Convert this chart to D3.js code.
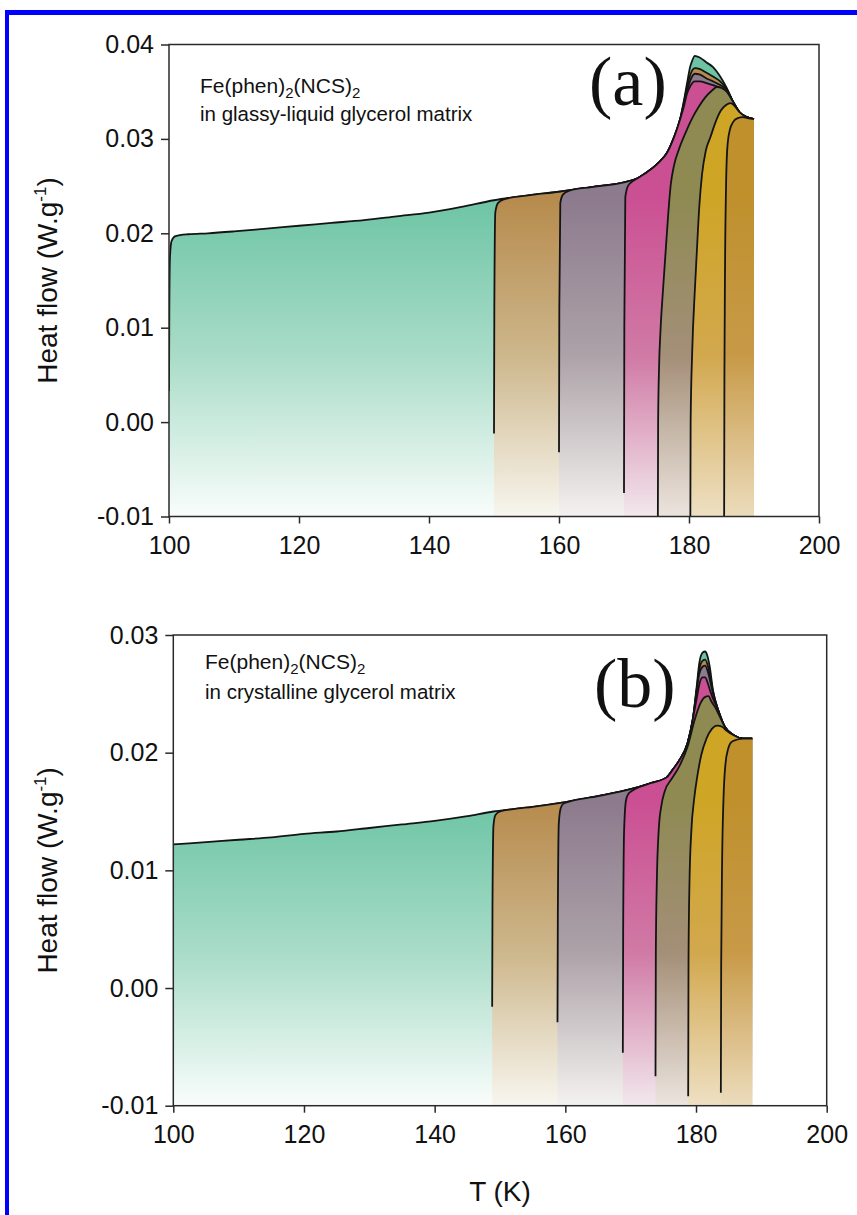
<!DOCTYPE html>
<html><head><meta charset="utf-8">
<script src="https://cdn.jsdelivr.net/npm/d3@7"></script>
<style>html,body{margin:0;padding:0;background:#fff;} svg{display:block;}</style>
</head><body>
<svg id="chart" width="857" height="1215"></svg>
<script>
// ---------------- DATA ----------------
const xTicks = [100, 120, 140, 160, 180, 200];
const yTicksA = [-0.01, 0.00, 0.01, 0.02, 0.03, 0.04];
const yTicksB = [-0.01, 0.00, 0.01, 0.02, 0.03];
const onsetsA = [100, 150, 160, 170, 175, 180, 185];   // K, start temperature of each run
const onsetsB = [100, 149, 159, 169, 174, 179, 184];

// panel (a): full run (envelope) T (K), heat flow (W/g)
const baseA = [[100.0,0.0033],[100.05,0.0120],[100.15,0.0175],[100.4,0.0192],[101,0.0197],[103,0.0199],[106,0.0200],[110,0.0202],[115,0.0205],[120,0.0208],[125,0.0211],[130,0.0214],[135,0.0218],[140,0.0222],[145,0.0228],[150,0.0235],[155,0.0240],[160,0.0244],[165,0.0249],[170,0.0254],[172,0.0258],[174,0.0267],[175.5,0.0276],[176.6,0.0285],[177.6,0.0300],[178.6,0.0320],[179.2,0.0340],[179.7,0.0359],[180.2,0.0377],[180.5,0.0383],[180.9,0.0388],[181.7,0.0386],[182.7,0.0381],[183.7,0.0376],[184.8,0.0366],[185.8,0.0354],[186.8,0.0339],[187.8,0.0328],[188.9,0.0323],[190.0,0.0321]];
const onA150 = [[150,-0.0012],[150.05,0.0120],[150.2,0.0222],[150.6,0.0232],[151.5,0.0236]];
const pkA150 = [[179.2,0.0338],[179.7,0.0355],[180.2,0.0368],[180.9,0.0375],[181.7,0.0374],[182.7,0.0370],[183.7,0.0366],[184.8,0.0361],[185.8,0.0353]];
const onA160 = [[160,-0.0032],[160.05,0.0120],[160.2,0.0232],[160.6,0.0241],[161.5,0.0245]];
const pkA160 = [[179.2,0.0336],[179.7,0.0351],[180.2,0.0362],[180.9,0.0369],[181.7,0.0368],[182.7,0.0364],[183.7,0.0361],[184.8,0.0357],[185.8,0.0352]];
const onA170 = [[170,-0.0075],[170.05,0.0100],[170.2,0.0238],[170.6,0.0250],[171.3,0.0255]];
const pkA170 = [[179.2,0.0334],[179.7,0.0348],[180.2,0.0356],[180.9,0.0361],[181.7,0.0361],[182.7,0.0359],[183.7,0.0357],[184.8,0.0354],[185.8,0.0350]];
const runA175 = [[175.2,-0.0120],[175.25,0.0000],[175.4,0.0060],[175.6,0.0095],[176.0,0.0140],[176.4,0.0180],[176.8,0.0220],[177.2,0.0252],[177.7,0.0272],[178.5,0.0290],[179.5,0.0307],[180.5,0.0322],[181.5,0.0334],[182.5,0.0344],[183.5,0.0351],[184.3,0.0355],[185.0,0.0354],[185.8,0.0350]];
const runA180 = [[180.2,-0.0120],[180.25,0.0000],[180.5,0.0076],[180.9,0.0140],[181.2,0.0180],[181.6,0.0230],[182.0,0.0262],[182.6,0.0288],[183.3,0.0302],[184.1,0.0318],[184.9,0.0330],[185.7,0.0336],[186.4,0.0338],[187.0,0.0335]];
const runA185 = [[185.4,-0.0120],[185.45,0.0050],[185.55,0.0170],[185.7,0.0250],[185.9,0.0291],[186.3,0.0310],[186.8,0.0318],[187.5,0.0322],[188.3,0.0323],[189.0,0.0322],[190.0,0.0321]];

// panel (b)
const baseB = [[100,0.0122],[105,0.0124],[110,0.0126],[115,0.0128],[120,0.0131],[125,0.0133],[130,0.0136],[135,0.0139],[140,0.0142],[145,0.0146],[149,0.0150],[152,0.0152],[155,0.0154],[160,0.0158],[165,0.0163],[170,0.0169],[173,0.0174],[175.5,0.0179],[176.5,0.0186],[177.5,0.0194],[178.7,0.0208],[179.5,0.0228],[180.1,0.0256],[180.5,0.0276],[181.0,0.0285],[181.4,0.0286],[181.7,0.0283],[182.1,0.0273],[182.6,0.0253],[183.4,0.0236],[184.4,0.0222],[185.7,0.0215],[187.2,0.0212],[188.6,0.0212]];
const onB149 = [[148.8,-0.0016],[148.85,0.0070],[149.0,0.0138],[149.3,0.0147],[150,0.0150]];
const pkB149 = [[180.1,0.0254],[180.5,0.0271],[181.0,0.0278],[181.4,0.0279],[181.8,0.0274],[182.2,0.0264],[182.6,0.0252]];
const onB159 = [[158.8,-0.0029],[158.85,0.0060],[159.0,0.0140],[159.3,0.0153],[159.8,0.0157]];
const pkB159 = [[180.1,0.0252],[180.5,0.0267],[181.0,0.0273],[181.4,0.0274],[181.8,0.0269],[182.2,0.0260],[182.6,0.0250]];
const onB169 = [[168.8,-0.0055],[168.85,0.0050],[169.0,0.0135],[169.3,0.0160],[169.8,0.0166]];
const pkB169 = [[180.1,0.0246],[180.5,0.0258],[181.0,0.0264],[181.4,0.0264],[181.8,0.0259],[182.2,0.0252],[182.6,0.0246],[183.0,0.0241]];
const runB174 = [[173.8,-0.0075],[173.85,0.0030],[174.0,0.0090],[174.3,0.0135],[174.7,0.0155],[175.2,0.0167],[176.3,0.0178],[177.5,0.0189],[178.7,0.0205],[179.8,0.0228],[180.6,0.0241],[181.3,0.0247],[181.9,0.0248],[182.4,0.0243],[183.0,0.0238],[183.6,0.0231]];
const runB179 = [[178.8,-0.0092],[178.85,0.0020],[179.0,0.0090],[179.3,0.0135],[179.7,0.0160],[180.2,0.0180],[180.8,0.0198],[181.6,0.0212],[182.4,0.0220],[183.2,0.0223],[184.0,0.0222],[184.6,0.0219]];
const runB184 = [[183.8,-0.0089],[183.85,0.0020],[184.0,0.0110],[184.2,0.0160],[184.5,0.0190],[184.9,0.0203],[185.4,0.0209],[186.2,0.0211],[187.2,0.0212],[188.6,0.0212]];

// ---------------- assemble runs ----------------
const between = (arr, lo, hi) => arr.filter(d => d[0] > lo && d[0] < hi);
const seriesA = [
  baseA,
  [...onA150, ...between(baseA,152,179), ...pkA150, ...between(baseA,186.5,191)],
  [...onA160, ...between(baseA,162,179), ...pkA160, ...between(baseA,186.5,191)],
  [...onA170, ...between(baseA,171.5,179), ...pkA170, ...between(baseA,186.5,191)],
  [...runA175, ...between(baseA,186.5,191)],
  [...runA180, ...between(baseA,187.5,191)],
  runA185
];
const seriesB = [
  baseB,
  [...onB149, ...between(baseB,151,180), ...pkB149, ...between(baseB,183,189)],
  [...onB159, ...between(baseB,160,180), ...pkB159, ...between(baseB,183,189)],
  [...onB169, ...between(baseB,170,179.6), ...pkB169, ...between(baseB,183.3,189)],
  [...runB174, ...between(baseB,184,189)],
  [...runB179, ...between(baseB,185,189)],
  runB184
];

// ---------------- STYLE ----------------
const colTop = ["#6cc4a4","#b68a4c","#8c7a8d","#cb4f93","#8e8a52","#cfa526","#bf902c"];
const colMid = ["#a9dcc9","#cdb78c","#ada2a8","#d07aa5","#a48f78","#d2a84e","#c89a48"];
const colEnd = ["#f9fdfb","#f8f6ef","#f4f2f0","#f2e8ec","#ece4de","#eee0c4","#ecdcbc"];

const svg = d3.select("#chart");
const defs = svg.append("defs");

// blue frame
svg.append("rect").attr("x",5).attr("y",10).attr("width",852).attr("height",5).attr("fill","#0000ff");
svg.append("rect").attr("x",5).attr("y",10).attr("width",4).attr("height",1205).attr("fill","#0000ff");

function drawPanel(cfg) {
  const x = d3.scaleLinear().domain([100, 200]).range([cfg.x0, cfg.x1]);
  const y = d3.scaleLinear().domain(cfg.yDomain).range([cfg.yBot, cfg.yTop]);
  const g = svg.append("g");
  const clipId = "clip" + cfg.id;
  defs.append("clipPath").attr("id", clipId).append("rect")
    .attr("x", cfg.x0).attr("y", cfg.yTop).attr("width", cfg.x1 - cfg.x0).attr("height", cfg.yBot - cfg.yTop);

  cfg.series.forEach((s, i) => {
    const gid = "grad" + cfg.id + i;
    const gr = defs.append("linearGradient").attr("id", gid)
      .attr("gradientUnits", "userSpaceOnUse")
      .attr("x1", 0).attr("x2", 0).attr("y1", y(cfg.gradTop)).attr("y2", cfg.yBot);
    gr.append("stop").attr("offset", 0).attr("stop-color", colTop[i]);
    gr.append("stop").attr("offset", 0.5).attr("stop-color", colMid[i]);
    gr.append("stop").attr("offset", 1).attr("stop-color", colEnd[i]);
  });

  const plot = g.append("g").attr("clip-path", `url(#${clipId})`);
  const area = d3.area().x(d => x(d[0])).y0(cfg.yBot + 5).y1(d => y(d[1])).curve(d3.curveMonotoneX);
  const line = d3.line().x(d => x(d[0])).y(d => y(d[1])).curve(d3.curveMonotoneX);
  cfg.series.forEach((s, i) => {
    plot.append("path").datum(s).attr("d", area).attr("fill", `url(#grad${cfg.id}${i})`);
    plot.append("path").datum(s).attr("d", line).attr("fill", "none")
      .attr("stroke", "#141414").attr("stroke-width", 1.8).attr("stroke-linejoin", "round");
  });

  // frame
  g.append("rect").attr("x", cfg.x0).attr("y", cfg.yTop).attr("width", cfg.x1 - cfg.x0).attr("height", cfg.yBot - cfg.yTop)
    .attr("fill", "none").attr("stroke", "#2a2a2a").attr("stroke-width", 1.5);

  const font = "'Liberation Sans', Arial, sans-serif";
  const ax = g.append("g").attr("transform", `translate(0,${cfg.yBot})`)
    .call(d3.axisBottom(x).tickValues(xTicks).tickSize(7).tickPadding(13).tickFormat(d3.format("d")));
  const ay = g.append("g").attr("transform", `translate(${cfg.x0},0)`)
    .call(d3.axisLeft(y).tickValues(cfg.yTicks).tickSize(8).tickPadding(7).tickFormat(d => d.toFixed(2)));
  [ax, ay].forEach(a => {
    a.select(".domain").remove();
    a.selectAll(".tick line").attr("stroke", "#2a2a2a").attr("stroke-width", 1.5);
    a.selectAll("text").attr("font-family", font).attr("font-size", 25).attr("fill", "#111");
  });

  // y title
  const yt = g.append("text").attr("font-family", font).attr("font-size", 28).attr("fill", "#111")
    .attr("text-anchor", "middle")
    .attr("transform", `translate(${cfg.yTitleX},${(cfg.yTop + cfg.yBot) / 2}) rotate(-90)`);
  yt.append("tspan").text("Heat flow (W.g");
  yt.append("tspan").attr("font-size", 17).attr("dy", -11).text("-1");
  yt.append("tspan").attr("dy", 11).text(")");

  // annotation
  const t1 = g.append("text").attr("font-family", font).attr("font-size", 21).attr("fill", "#111")
    .attr("x", cfg.annX).attr("y", cfg.annY1);
  t1.append("tspan").text("Fe(phen)");
  t1.append("tspan").attr("font-size", 15).attr("dy", 5).text("2");
  t1.append("tspan").attr("dy", -5).text("(NCS)");
  t1.append("tspan").attr("font-size", 15).attr("dy", 5).text("2");
  g.append("text").attr("font-family", font).attr("font-size", 20.5).attr("fill", "#111")
    .attr("x", cfg.annX).attr("y", cfg.annY2).text(cfg.ann2);
  g.append("text").attr("font-family", "'Liberation Serif', 'Times New Roman', serif").attr("font-size", 70)
    .attr("fill", "#111").attr("x", cfg.labX).attr("y", cfg.labY).text(cfg.label);
}

drawPanel({id: "a", x0: 169, x1: 819, yTop: 44.5, yBot: 516.5, yDomain: [-0.01, 0.04], yTicks: yTicksA,
  series: seriesA, gradTop: 0.024, yTitleX: 57, annX: 200, annY1: 93, annY2: 121,
  ann2: "in glassy-liquid glycerol matrix", label: "(a)", labX: 589, labY: 105});
drawPanel({id: "b", x0: 173.3, x1: 826.7, yTop: 635, yBot: 1105.7, yDomain: [-0.01, 0.03], yTicks: yTicksB,
  series: seriesB, gradTop: 0.016, yTitleX: 57, annX: 205, annY1: 669, annY2: 699,
  ann2: "in crystalline glycerol matrix", label: "(b)", labX: 594, labY: 707});

svg.append("text").attr("font-family", "'Liberation Sans', Arial, sans-serif").attr("font-size", 28).attr("fill", "#111")
  .attr("text-anchor", "middle").attr("x", 500).attr("y", 1201).text("T (K)");
</script></body></html>
